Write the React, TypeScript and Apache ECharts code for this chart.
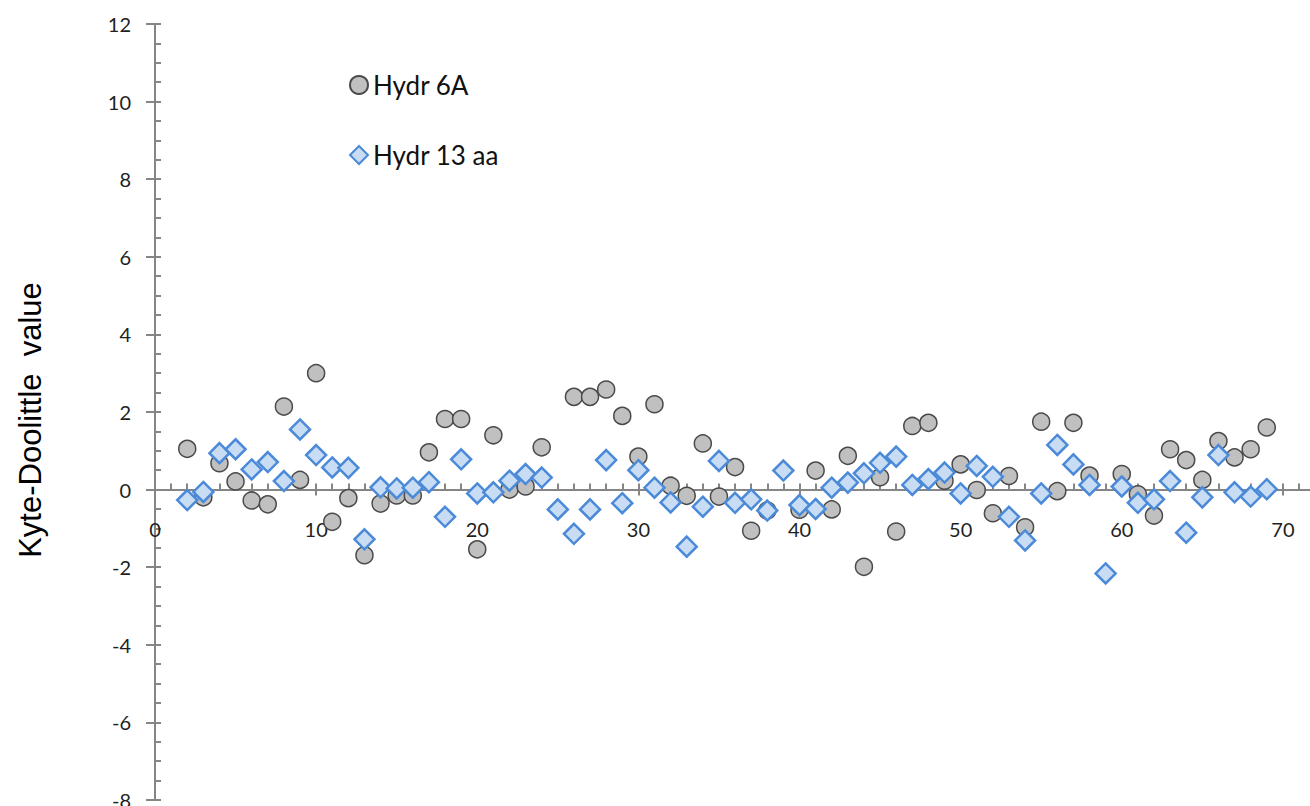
import React, { useEffect, useRef } from 'react';
import * as echarts from 'echarts';

const positions = [
  2, 3, 4, 5, 6, 7, 8, 9, 10, 11, 12, 13, 14, 15, 16, 17, 18, 19, 20, 21, 22, 23, 24, 25,
  26, 27, 28, 29, 30, 31, 32, 33, 34, 35, 36, 37, 38, 39, 40, 41, 42, 43, 44, 45, 46, 47,
  48, 49, 50, 51, 52, 53, 54, 55, 56, 57, 58, 59, 60, 61, 62, 63, 64, 65, 66, 67, 68, 69,
];

const hydr6A: (number | null)[] = [
  1.05, -0.2, 0.68, 0.21, -0.28, -0.38, 2.14, 0.25, 3.0, -0.83, -0.22, -1.69, -0.36, -0.15,
  -0.15, 0.96, 1.82, 1.82, -1.54, 1.4, 0.0, 0.08, 1.09, null, 2.39, 2.39, 2.58, 1.9, 0.85,
  2.2, 0.1, -0.16, 1.19, -0.18, 0.58, -1.06, -0.54, null, -0.52, 0.49, -0.51, 0.87, -1.99,
  0.32, -1.08, 1.64, 1.72, 0.23, 0.65, -0.01, -0.61, 0.35, -0.97, 1.75, -0.04, 1.72, 0.36,
  null, 0.4, -0.12, -0.67, 1.04, 0.76, 0.25, 1.25, 0.83, 1.04, 1.6,
];

const hydr13aa: (number | null)[] = [
  -0.27, -0.06, 0.94, 1.04, 0.52, 0.71, 0.22, 1.55, 0.89, 0.57, 0.56, -1.28, 0.06, 0.03,
  0.05, 0.19, -0.7, 0.78, -0.1, -0.07, 0.23, 0.4, 0.31, -0.51, -1.14, -0.51, 0.76, -0.35,
  0.5, 0.05, -0.33, -1.47, -0.44, 0.74, -0.34, -0.25, -0.54, 0.49, -0.4, -0.5, 0.05, 0.18,
  0.42, 0.69, 0.85, 0.12, 0.27, 0.44, -0.1, 0.61, 0.33, -0.7, -1.31, -0.1, 1.15, 0.65,
  0.12, -2.16, 0.08, -0.34, -0.25, 0.22, -1.11, -0.2, 0.89, -0.07, -0.18, 0.01,
];

const seriesNames = ['Hydr 6A', 'Hydr 13 aa'];
const yTitle = 'Kyte-Doolittle  value';

const X_MIN = 0;
const X_MAX = 80;
const X_INTERVAL = 10;
const Y_MIN = -8;
const Y_MAX = 12;
const Y_INTERVAL = 2;

const AXIS_COLOR = '#868686';
const LABEL_COLOR = '#1f1f1f';

function toPoints(values: (number | null)[]) {
  return positions
    .map((x, i) => [x, values[i]])
    .filter((d) => d[1] !== null && d[1] !== undefined);
}

export default function App() {
  const ref = useRef<HTMLDivElement>(null);

  useEffect(() => {
    if (!ref.current) return;
    const chart = echarts.init(ref.current, undefined, { renderer: 'svg' });
    const lineStyle = { color: AXIS_COLOR, width: 2 };
    chart.setOption({
      animation: false,
      backgroundColor: '#ffffff',
      textStyle: { fontFamily: 'Lato' },
      grid: [
        // main plotting grid
        { left: 155, right: -134, top: 24, bottom: 6, containLabel: false, outerBoundsMode: 'none' },
        // label grid: its bottom edge sits on the y = 0 line of the main grid
        { left: 155, right: -134, top: 24, bottom: 316.4, containLabel: false, outerBoundsMode: 'none' },
      ],
      legend: {
        orient: 'vertical',
        left: 344,
        top: 67,
        itemWidth: 18,
        itemHeight: 18,
        itemGap: 44,
        data: seriesNames,
        textStyle: {
          fontFamily: 'Lato',
          fontSize: 26,
          lineHeight: 26,
          color: '#111111',
        },
      },
      xAxis: [
        {
          type: 'value',
          gridIndex: 0,
          min: X_MIN,
          max: X_MAX,
          interval: X_INTERVAL,
          position: 'bottom',
          axisLine: { show: true, onZero: true, onZeroAxisIndex: 0, lineStyle },
          axisTick: { show: true, inside: true, length: 6, lineStyle },
          minorTick: { show: true, splitNumber: 10, length: 6, lineStyle },
          axisLabel: { show: false },
          splitLine: { show: false },
        },
        {
          type: 'value',
          gridIndex: 0,
          min: X_MIN,
          max: X_MAX,
          interval: X_INTERVAL,
          position: 'bottom',
          axisLine: { show: false, onZero: true, onZeroAxisIndex: 0, lineStyle },
          axisTick: { show: true, inside: false, length: 6, lineStyle },
          minorTick: { show: false },
          axisLabel: { show: false },
          splitLine: { show: false },
        },
        {
          type: 'value',
          gridIndex: 1,
          min: X_MIN,
          max: X_MAX,
          interval: X_INTERVAL,
          position: 'bottom',
          axisLine: { show: false, onZero: false },
          axisTick: { show: false },
          minorTick: { show: false },
          axisLabel: {
            show: true,
            margin: 29,
            fontSize: 20,
            fontFamily: 'Lato',
            color: LABEL_COLOR,
            showMaxLabel: false,
            formatter: (v: number) => (v >= 75 ? '' : String(v)),
          },
          splitLine: { show: false },
        },
      ],
      yAxis: [
        {
          type: 'value',
          gridIndex: 0,
          min: Y_MIN,
          max: Y_MAX,
          interval: Y_INTERVAL,
          position: 'left',
          axisLine: { show: true, onZero: false, lineStyle },
          axisTick: { show: true, inside: true, length: 6, lineStyle },
          minorTick: { show: true, splitNumber: 4, length: 6, lineStyle },
          axisLabel: {
            show: true,
            margin: 24,
            fontSize: 20,
            fontFamily: 'Lato',
            color: LABEL_COLOR,
          },
          splitLine: { show: false },
        },
        {
          type: 'value',
          gridIndex: 0,
          min: Y_MIN,
          max: Y_MAX,
          interval: Y_INTERVAL,
          position: 'left',
          axisLine: { show: false, onZero: false },
          axisTick: { show: true, inside: false, length: 9, lineStyle },
          minorTick: { show: false },
          axisLabel: { show: false },
          splitLine: { show: false },
        },
        {
          type: 'value',
          gridIndex: 1,
          min: 0,
          max: 1,
          show: false,
        },
      ],
      graphic: [
        {
          type: 'text',
          x: 30,
          y: 420,
          rotation: Math.PI / 2,
          style: {
            text: yTitle,
            fontFamily: 'Liberation Sans',
            fontSize: 31,
            fill: '#000000',
            align: 'center',
            verticalAlign: 'middle',
          },
        },
      ],
      series: [
        {
          name: seriesNames[0],
          type: 'scatter',
          xAxisIndex: 0,
          yAxisIndex: 0,
          symbol: 'circle',
          symbolSize: 17,
          itemStyle: { color: '#C0C0C0', borderColor: '#4a4a4a', borderWidth: 1.5, opacity: 1 },
          data: toPoints(hydr6A),
        },
        {
          name: seriesNames[1],
          type: 'scatter',
          xAxisIndex: 0,
          yAxisIndex: 0,
          symbol: 'diamond',
          symbolSize: 20,
          itemStyle: { color: '#C8DCF4', borderColor: '#4A8AD9', borderWidth: 2.5, opacity: 1 },
          data: toPoints(hydr13aa),
        },
      ],
    });
    return () => chart.dispose();
  }, []);

  return (
    <div
      ref={ref}
      style={{ position: 'fixed', left: 0, top: 0, width: 1310, height: 806, background: '#fff' }}
    />
  );
}
